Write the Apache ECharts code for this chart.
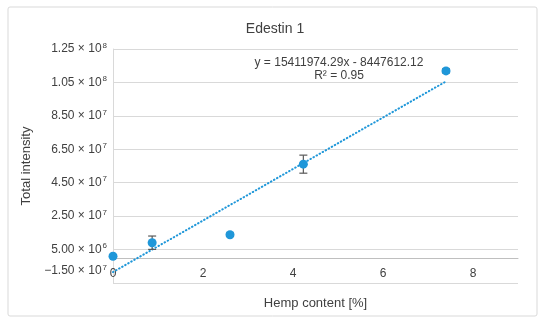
<!DOCTYPE html>
<html>
<head>
<meta charset="utf-8">
<script src="https://cdn.jsdelivr.net/npm/echarts@6/dist/echarts.min.js"></script>
<style>
  html, body { margin: 0; padding: 0; background: #fff; }
  #main { width: 550px; height: 325px; }
</style>
</head>
<body>
<div id="main"></div>
<script>
// values
var hemp = [0, 0.87, 2.6, 4.23, 7.4];
var intensity = [1.0e6, 9.1e6, 1.39e7, 5.61e7, 1.119e8];
var errors = [0.6e6, 4.0e6, 1.0e6, 5.4e6, 1.2e6];
var yTicks = [-1.5e7, 5e6, 2.5e7, 4.5e7, 6.5e7, 8.5e7, 1.05e8, 1.25e8];
var slope = 15411974.29;
var intercept = -8447612.12;

var blue = '#1f97d9';

var points = hemp.map(function (x, i) { return [x, intensity[i]]; });
var bars = hemp.map(function (x, i) { return [x, intensity[i] - errors[i], intensity[i] + errors[i]]; });
var trend = [
  [hemp[0], slope * hemp[0] + intercept],
  [hemp[hemp.length - 1], slope * hemp[hemp.length - 1] + intercept]
];

function sci(v) {
  var e = Math.floor(Math.log10(Math.abs(v)));
  var m = (v / Math.pow(10, e)).toFixed(2).replace('-', '\u2212');
  // lowest label sits a bit above its line, as in the original
  var k = v === yTicks[0] ? 'b' : '';
  return '{m' + k + '|' + m + ' \u00d7 10}{e' + k + '|' + e + '}';
}

var chart = echarts.init(document.getElementById('main'));
chart.setOption({
  animation: false,
  textStyle: { fontFamily: 'Liberation Sans, Arial, sans-serif' },
  title: {
    text: 'Edestin 1',
    left: 'center',
    top: 17,
    textStyle: { fontSize: 14, fontWeight: 'normal', color: '#404040' }
  },
  graphic: [
    {
      type: 'rect',
      shape: { x: 8, y: 7, width: 529, height: 309, r: 2 },
      style: { fill: 'none', stroke: '#d9d9d9', lineWidth: 1 },
      silent: true,
      z: -1
    },
    {
      type: 'text',
      x: 339,
      y: 56,
      style: {
        text: 'y = 15411974.29x - 8447612.12\nR\u00b2 = 0.95',
        align: 'center',
        fontSize: 12,
        lineHeight: 13,
        fill: '#404040',
        fontFamily: 'Liberation Sans, Arial, sans-serif'
      }
    }
  ],
  grid: { left: 113, right: 32, top: 49, bottom: 42, outerBoundsMode: 'none' },
  xAxis: {
    type: 'value',
    min: 0,
    max: 9,
    interval: 2,
    name: 'Hemp content [%]',
    nameLocation: 'middle',
    nameGap: 14,
    nameTextStyle: { fontSize: 13, color: '#404040' },
    axisLine: { onZero: true, lineStyle: { color: '#bfbfbf' } },
    axisTick: { show: false },
    axisLabel: { fontSize: 12, color: '#404040', margin: -15, showMaxLabel: false },
    splitLine: { show: false }
  },
  yAxis: {
    type: 'value',
    min: yTicks[0],
    max: yTicks[yTicks.length - 1],
    name: 'Total intensity',
    nameLocation: 'middle',
    nameGap: 77,
    nameTextStyle: { fontSize: 13, color: '#404040' },
    axisLine: { show: true, lineStyle: { color: '#d9d9d9' } },
    axisTick: { show: false, customValues: yTicks },
    axisLabel: {
      customValues: yTicks,
      formatter: sci,
      margin: 6,
      rich: {
        m: { fontSize: 12, color: '#404040' },
        e: { fontSize: 8, color: '#404040', padding: [0, 0, 7, 1] },
        mb: { fontSize: 12, color: '#404040', padding: [0, 0, 24, 0] },
        eb: { fontSize: 8, color: '#404040', padding: [0, 0, 31, 1] }
      }
    },
    splitLine: { show: true, customValues: yTicks, lineStyle: { color: '#d9d9d9' } }
  },
  series: [
    {
      type: 'line',
      data: trend,
      symbol: 'none',
      lineStyle: { color: blue, width: 2, type: [0.5, 3], cap: 'round' },
      z: 2
    },
    {
      type: 'custom',
      data: bars,
      renderItem: function (params, api) {
        var x = api.value(0);
        var lo = api.coord([x, api.value(1)]);
        var hi = api.coord([x, api.value(2)]);
        var w = 4;
        var st = { stroke: '#595959', lineWidth: 1.2 };
        return {
          type: 'group',
          children: [
            { type: 'line', shape: { x1: lo[0], y1: lo[1], x2: hi[0], y2: hi[1] }, style: st },
            { type: 'line', shape: { x1: lo[0] - w, y1: lo[1], x2: lo[0] + w, y2: lo[1] }, style: st },
            { type: 'line', shape: { x1: hi[0] - w, y1: hi[1], x2: hi[0] + w, y2: hi[1] }, style: st }
          ]
        };
      },
      z: 3
    },
    {
      type: 'scatter',
      data: points,
      symbol: 'circle',
      symbolSize: 9,
      itemStyle: { color: blue, opacity: 1 },
      z: 4
    }
  ]
});
</script>
</body>
</html>
